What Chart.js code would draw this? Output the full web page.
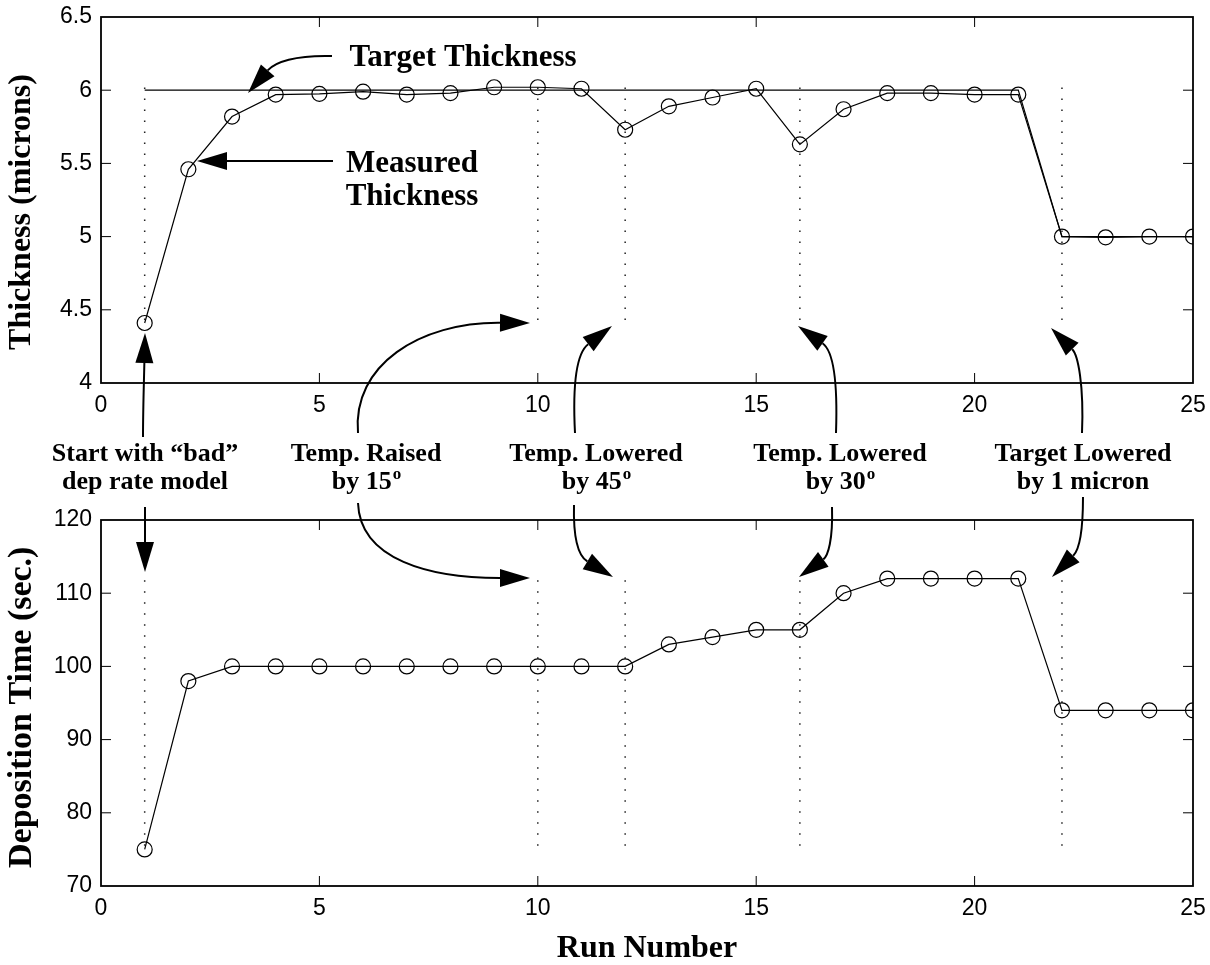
<!DOCTYPE html>
<html>
<head>
<meta charset="utf-8">
<title>Thickness and deposition time by run</title>
<script src="https://cdn.jsdelivr.net/npm/chart.js@4.4.1/dist/chart.umd.min.js"></script>
<style>
body { margin: 0; background: #fff; }
#wrap { position: relative; width: 1210px; height: 965px; }
#wrap canvas { position: absolute; left: 0; top: 0; }
</style>
</head>
<body>
<div id="wrap">
<canvas id="thick" width="1210" height="965"></canvas>
<canvas id="dep" width="1210" height="965"></canvas>
</div>
<script>
var runs = [1, 2, 3, 4, 5, 6, 7, 8, 9, 10, 11, 12, 13, 14, 15, 16, 17, 18, 19, 20, 21, 22, 23, 24, 25];
var thickness = [4.41, 5.46, 5.82, 5.97, 5.975, 5.99, 5.97, 5.98, 6.02, 6.02, 6.01, 5.73, 5.89,
                 5.95, 6.01, 5.63, 5.87, 5.98, 5.98, 5.97, 5.97, 5.0, 4.995, 5.0, 5.0];
var targetThickness = [6, 6, 6, 6, 6, 6, 6, 6, 6, 6, 6, 6, 6, 6, 6, 6, 6, 6, 6, 6, 6, 5, 5, 5, 5];
var depTime = [75, 98, 100, 100, 100, 100, 100, 100, 100, 100, 100, 100, 103,
               104, 105, 105, 110, 112, 112, 112, 112, 94, 94, 94, 94];

// runs where something was changed (dotted markers)
var eventRuns = [1, 10, 12, 16, 22];
var thickEventSpan = [4.43, 6.02];
var depEventSpan = [75.5, 112];

var runTicks = [0, 5, 10, 15, 20, 25];
var thickTicks = [4, 4.5, 5, 5.5, 6, 6.5];
var depTicks = [70, 80, 90, 100, 110, 120];

var serif = '"Liberation Serif", "Times New Roman", serif';
var sans = '"Liberation Sans", Arial, Helvetica, sans-serif';

function toPoints(xs, ys) {
	return xs.map(function (r, i) { return { x: r, y: ys[i] }; });
}

function eventLines(span) {
	return eventRuns.map(function (r) {
		return {
			data: [{ x: r, y: span[0] }, { x: r, y: span[1] }],
			borderColor: '#222',
			borderWidth: 1.5,
			borderDash: [1.5, 9.5],
			pointRadius: 0,
			order: 5
		};
	});
}

function measuredSet(ys) {
	return {
		data: toPoints(runs, ys),
		borderColor: '#000',
		borderWidth: 1.2,
		pointRadius: 7.5,
		pointBorderWidth: 1.2,
		pointBorderColor: '#000',
		pointBackgroundColor: 'rgba(0,0,0,0)',
		order: 1
	};
}

function useTicks(list) {
	return function (scale) {
		scale.ticks = list.map(function (v) { return { value: v }; });
	};
}

// MATLAB-like frame with inward tick marks
var boxFrame = {
	id: 'boxFrame',
	afterDraw: function (chart) {
		var a = chart.chartArea, ctx = chart.ctx;
		var sx = chart.scales.x, sy = chart.scales.y;
		ctx.save();
		ctx.strokeStyle = '#000';
		ctx.lineWidth = 1;
		ctx.beginPath();
		sx.ticks.forEach(function (t) {
			var px = sx.getPixelForValue(t.value);
			if (px <= a.left + 1 || px >= a.right - 1) return;
			ctx.moveTo(px, a.bottom); ctx.lineTo(px, a.bottom - 10);
			ctx.moveTo(px, a.top); ctx.lineTo(px, a.top + 10);
		});
		sy.ticks.forEach(function (t) {
			var py = sy.getPixelForValue(t.value);
			if (py <= a.top + 1 || py >= a.bottom - 1) return;
			ctx.moveTo(a.left, py); ctx.lineTo(a.left + 10, py);
			ctx.moveTo(a.right, py); ctx.lineTo(a.right - 10, py);
		});
		ctx.stroke();
		ctx.lineWidth = 1.8;
		ctx.strokeRect(a.left, a.top, a.right - a.left, a.bottom - a.top);
		ctx.restore();
	}
};

// text notes and arrows (page pixels)
var notes = [
	{ x: 463, y: 66, size: 31, lines: ['Target Thickness'] },
	{ x: 412, y: 172, size: 31, lines: ['Measured', 'Thickness'] },
	{ x: 145, y: 461, size: 26, lines: ['Start with \u201cbad\u201d', 'dep rate model'] },
	{ x: 366, y: 461, size: 26, lines: ['Temp. Raised', 'by 15'], sup: 'o' },
	{ x: 596, y: 461, size: 26, lines: ['Temp. Lowered', 'by 45'], sup: 'o' },
	{ x: 840, y: 461, size: 26, lines: ['Temp. Lowered', 'by 30'], sup: 'o' },
	{ x: 1083, y: 461, size: 26, lines: ['Target Lowered', 'by 1 micron'] }
];

var arrows = [
	[[332, 56], [295, 55], [275, 62], [248, 93]],
	[[333, 161], [290, 161], [250, 161], [197, 161]],
	[[143, 437], [143, 410], [144, 380], [145, 333]],
	[[145, 507], [145, 515], [145, 525], [145, 572]],
	[[358, 433], [352, 365], [420, 322], [530, 323]],
	[[358, 503], [360, 560], [430, 578], [530, 578]],
	[[575, 433], [572, 375], [578, 352], [612, 326]],
	[[574, 505], [573, 545], [580, 557], [613, 577]],
	[[836, 433], [838, 375], [832, 350], [798, 326]],
	[[832, 507], [833, 540], [828, 556], [799, 577]],
	[[1082, 433], [1084, 385], [1078, 355], [1051, 328]],
	[[1083, 497], [1083, 530], [1079, 550], [1052, 577]]
];

function drawArrow(ctx, p) {
	var headLen = 30, halfW = 9;
	var tip = p[3], c2 = p[2];
	var dx = tip[0] - c2[0], dy = tip[1] - c2[1];
	var len = Math.sqrt(dx * dx + dy * dy);
	var ux = dx / len, uy = dy / len;
	var bx = tip[0] - ux * headLen, by = tip[1] - uy * headLen;
	ctx.beginPath();
	ctx.moveTo(p[0][0], p[0][1]);
	ctx.bezierCurveTo(p[1][0], p[1][1], c2[0], c2[1], bx, by);
	ctx.stroke();
	ctx.beginPath();
	ctx.moveTo(tip[0], tip[1]);
	ctx.lineTo(bx - uy * halfW, by + ux * halfW);
	ctx.lineTo(bx + uy * halfW, by - ux * halfW);
	ctx.closePath();
	ctx.fill();
}

function drawNote(ctx, n) {
	var gap = Math.round(n.size * 1.08);
	n.lines.forEach(function (txt, i) {
		var base = n.y + i * gap;
		ctx.font = 'bold ' + n.size + 'px ' + serif;
		var w = ctx.measureText(txt).width;
		var sw = 0;
		var last = i === n.lines.length - 1;
		if (n.sup && last) {
			ctx.font = 'bold 17px ' + serif;
			sw = ctx.measureText(n.sup).width;
		}
		var left = n.x - (w + sw) / 2;
		ctx.font = 'bold ' + n.size + 'px ' + serif;
		ctx.fillText(txt, left, base);
		if (n.sup && last) {
			ctx.font = 'bold 17px ' + serif;
			ctx.fillText(n.sup, left + w + 1, base - 10);
		}
	});
}

var notesPlugin = {
	id: 'notes',
	afterDraw: function (chart) {
		var ctx = chart.ctx;
		ctx.save();
		ctx.fillStyle = '#000';
		ctx.strokeStyle = '#000';
		ctx.lineWidth = 2;
		ctx.textAlign = 'left';
		ctx.textBaseline = 'alphabetic';
		notes.forEach(function (n) { drawNote(ctx, n); });
		arrows.forEach(function (a) { drawArrow(ctx, a); });
		ctx.restore();
	}
};

function axisTitle(text, size, pad) {
	return {
		display: true,
		text: text,
		color: '#000',
		font: { family: serif, size: size, weight: 'bold', lineHeight: 1 },
		padding: pad
	};
}

function makeChart(id, datasets, yMin, yMax, yTicks, yTitle, padding, xHeight, xTitle, extra) {
	var ctx = document.getElementById(id).getContext('2d');
	return new Chart(ctx, {
		type: 'line',
		data: { datasets: datasets },
		options: {
			responsive: false,
			animation: false,
			devicePixelRatio: 1,
			layout: { padding: padding },
			plugins: { legend: { display: false }, tooltip: { enabled: false } },
			scales: {
				x: {
					type: 'linear',
					min: 0,
					max: 25,
					afterBuildTicks: useTicks(runTicks),
					afterFit: function (s) {
						s.height = xHeight;
						s.paddingLeft = 0;
						s.paddingRight = 0;
					},
					grid: { display: false, drawTicks: false },
					border: { display: false },
					ticks: {
						color: '#000', padding: 9, maxRotation: 0,
						font: { family: sans, size: 23 },
						callback: function (v) { return String(v); }
					},
					title: xTitle
				},
				y: {
					min: yMin,
					max: yMax,
					afterBuildTicks: useTicks(yTicks),
					afterFit: function (s) {
						s.width = 101;
						s.paddingTop = 0;
						s.paddingBottom = 0;
					},
					grid: { display: false, drawTicks: false },
					border: { display: false },
					ticks: {
						color: '#000', padding: 9,
						font: { family: sans, size: 23 },
						callback: function (v) { return String(v); }
					},
					title: yTitle
				}
			}
		},
		plugins: [boxFrame].concat(extra)
	});
}

var topSets = [
	{
		data: toPoints(runs, targetThickness),
		borderColor: '#000',
		borderWidth: 1.2,
		pointRadius: 0,
		order: 2
	},
	measuredSet(thickness)
].concat(eventLines(thickEventSpan));

var bottomSets = [measuredSet(depTime)].concat(eventLines(depEventSpan));

// trailing spaces nudge the rotated titles down a little, as in the original
makeChart('thick', topSets, 4, 6.5, thickTicks,
	axisTitle('Thickness (microns)   ', 32, { top: 6 }),
	{ left: 0, top: 17, right: 17, bottom: 552 }, 30, { display: false }, []);

makeChart('dep', bottomSets, 70, 120, depTicks,
	axisTitle('Deposition Time (sec.) ', 34, { top: 5 }),
	{ left: 0, top: 520, right: 17, bottom: 0 }, 79,
	axisTitle('Run Number', 32, { top: 0, bottom: 0 }), [notesPlugin]);
</script>
</body>
</html>
